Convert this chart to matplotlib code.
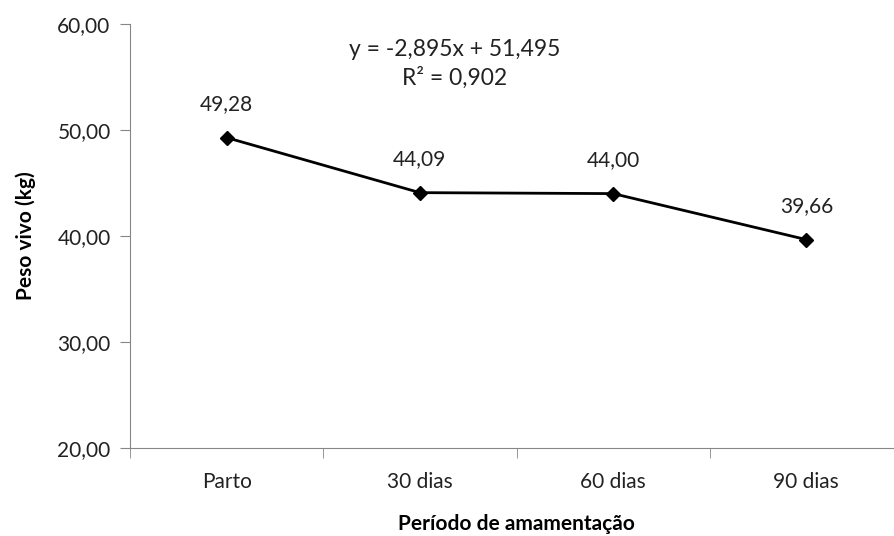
import matplotlib
matplotlib.use("Agg")
import matplotlib.pyplot as plt

categorias = ["Parto", "30 dias", "60 dias", "90 dias"]
peso = [49.28, 44.09, 44.00, 39.66]
rotulos = ["49,28", "44,09", "44,00", "39,66"]
yticks = [20, 30, 40, 50, 60]
ytick_labels = ["20,00", "30,00", "40,00", "50,00", "60,00"]
equacao = "y = -2,895x + 51,495\nR² = 0,902"

plt.rcParams['font.family'] = ['Lato', 'DejaVu Sans']

fig = plt.figure(figsize=(8.95, 5.36), dpi=100)
ax = fig.add_axes([130/895, 1-448/536, 773/895, 424/536])

x = list(range(len(categorias)))
ax.plot(x, peso, color='black', lw=2, marker='D', ms=7.5, zorder=3)
for xi, yi, lab in zip(x, peso, rotulos):
    ax.annotate(lab, (xi, yi), xytext=(0, 17), textcoords='offset points',
                ha='center', va='bottom', fontsize=15, color='#222222')

ax.set_xlim(-0.5, 3.5)
ax.set_ylim(20, 60)
ax.set_yticks(yticks)
ax.set_yticklabels(ytick_labels)
ax.set_xticks(x)
ax.set_xticklabels(categorias)
ax.set_xticks([-0.5, 0.5, 1.5, 2.5, 3.5], minor=True)
ax.tick_params(axis='x', which='major', length=0, pad=17, labelsize=15, colors='#222222')
ax.tick_params(axis='x', which='minor', length=7, color='#868686', direction='out')
ax.tick_params(axis='y', length=7, color='#868686', labelsize=15, labelcolor='#222222', pad=7)

for s in ['top', 'right']:
    ax.spines[s].set_visible(False)
for s in ['left', 'bottom']:
    ax.spines[s].set_color('#868686')

ax.set_ylabel("Peso vivo (kg)", fontsize=15, fontweight='bold', labelpad=15)
ax.set_xlabel("Período de amamentação", fontsize=15, fontweight='bold', labelpad=16)

fig.text(455/895, 1-64/536, equacao, ha='center', va='center', fontsize=16.5,
         linespacing=1.35, color='#222222')

fig.savefig("out.png", dpi=100)
